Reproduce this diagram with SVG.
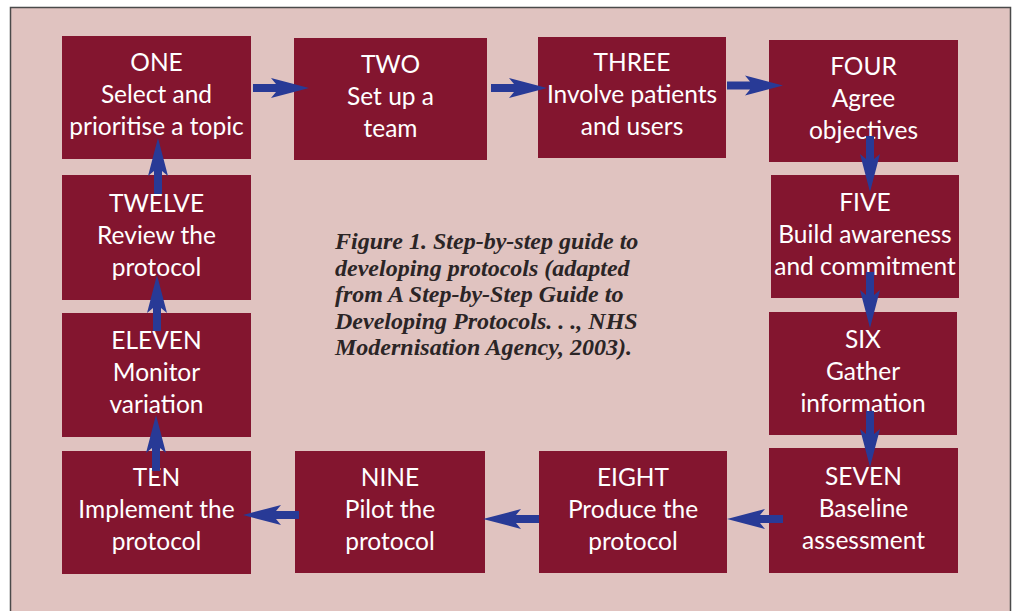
<svg xmlns="http://www.w3.org/2000/svg" xmlns:xlink="http://www.w3.org/1999/xlink" width="1014" height="611" viewBox="0 0 1014 611">
<style>
.box{fill:#83152f}
.t{font-family:Lato,"Open Sans","Liberation Sans",sans-serif;font-size:24.5px;fill:#ffffff;text-anchor:middle}
.cap{font-family:"Liberation Serif","Times New Roman",serif;font-size:24px;font-weight:bold;font-style:italic;fill:#2b2526}
.arr{fill:#283a96}
</style>
<defs>
<path id="a" d="M0,0 L-38,-10 L-33,-4 L-56,-4 L-56,4 L-33,4 L-38,10 Z"/>
</defs>
<rect x="0" y="0" width="1014" height="611" fill="#ffffff"/>
<rect x="10.5" y="7.5" width="1000" height="605" fill="#e0c3c0" stroke="#4a4a4a" stroke-width="1.5"/>
<g id="one"><rect class="box" x="62" y="36" width="189" height="123"/><text class="t" x="156.5" y="71">ONE</text><text class="t" x="156.5" y="103">Select and</text><text class="t" x="156.5" y="135">prioritise a topic</text></g>
<g id="two"><rect class="box" x="294" y="38" width="193" height="122"/><text class="t" x="390.5" y="73">TWO</text><text class="t" x="390.5" y="105">Set up a</text><text class="t" x="390.5" y="137">team</text></g>
<g id="three"><rect class="box" x="538" y="37" width="188" height="121"/><text class="t" x="632" y="71">THREE</text><text class="t" x="632" y="103">Involve patients</text><text class="t" x="632" y="135">and users</text></g>
<g id="four"><rect class="box" x="769" y="40" width="189" height="122"/><text class="t" x="863.5" y="75">FOUR</text><text class="t" x="863.5" y="107">Agree</text><text class="t" x="863.5" y="139">objectives</text></g>
<g id="five"><rect class="box" x="771" y="175" width="188" height="123"/><text class="t" x="865" y="211">FIVE</text><text class="t" x="865" y="243">Build awareness</text><text class="t" x="865" y="275">and commitment</text></g>
<g id="six"><rect class="box" x="769" y="312" width="188" height="123"/><text class="t" x="863" y="348">SIX</text><text class="t" x="863" y="380">Gather</text><text class="t" x="863" y="412">information</text></g>
<g id="seven"><rect class="box" x="769" y="448" width="189" height="125"/><text class="t" x="863.5" y="485">SEVEN</text><text class="t" x="863.5" y="517">Baseline</text><text class="t" x="863.5" y="549">assessment</text></g>
<g id="eight"><rect class="box" x="539" y="451" width="188" height="122"/><text class="t" x="633" y="486">EIGHT</text><text class="t" x="633" y="518">Produce the</text><text class="t" x="633" y="550">protocol</text></g>
<g id="nine"><rect class="box" x="295" y="451" width="190" height="122"/><text class="t" x="390" y="486">NINE</text><text class="t" x="390" y="518">Pilot the</text><text class="t" x="390" y="550">protocol</text></g>
<g id="ten"><rect class="box" x="62" y="451" width="189" height="123"/><text class="t" x="156.5" y="486">TEN</text><text class="t" x="156.5" y="518">Implement the</text><text class="t" x="156.5" y="550">protocol</text></g>
<g id="eleven"><rect class="box" x="62" y="313" width="189" height="124"/><text class="t" x="156.5" y="349">ELEVEN</text><text class="t" x="156.5" y="381">Monitor</text><text class="t" x="156.5" y="413">variation</text></g>
<g id="twelve"><rect class="box" x="62" y="175" width="189" height="125"/><text class="t" x="156.5" y="212">TWELVE</text><text class="t" x="156.5" y="244">Review the</text><text class="t" x="156.5" y="276">protocol</text></g>
<g id="connectors" class="arr">
<use xlink:href="#a" transform="translate(309,88)"/>
<use xlink:href="#a" transform="translate(547,88)"/>
<use xlink:href="#a" transform="translate(783,85.5)"/>
<use xlink:href="#a" transform="translate(870,192) rotate(90)"/>
<use xlink:href="#a" transform="translate(870,328) rotate(90)"/>
<use xlink:href="#a" transform="translate(870,467) rotate(90)"/>
<use xlink:href="#a" transform="translate(727,519) rotate(180)"/>
<use xlink:href="#a" transform="translate(483,519) rotate(180)"/>
<use xlink:href="#a" transform="translate(243,515) rotate(180)"/>
<use xlink:href="#a" transform="translate(156,415) rotate(-90)"/>
<use xlink:href="#a" transform="translate(157,275) rotate(-90)"/>
<use xlink:href="#a" transform="translate(158,138) rotate(-90)"/>
</g>
<g id="caption" class="cap">
<text x="335" y="249">Figure 1. Step-by-step guide to</text>
<text x="335" y="275.5">developing protocols (adapted</text>
<text x="335" y="302">from A Step-by-Step Guide to</text>
<text x="335" y="328.5">Developing Protocols. . ., NHS</text>
<text x="335" y="355">Modernisation Agency, 2003).</text>
</g>
</svg>
